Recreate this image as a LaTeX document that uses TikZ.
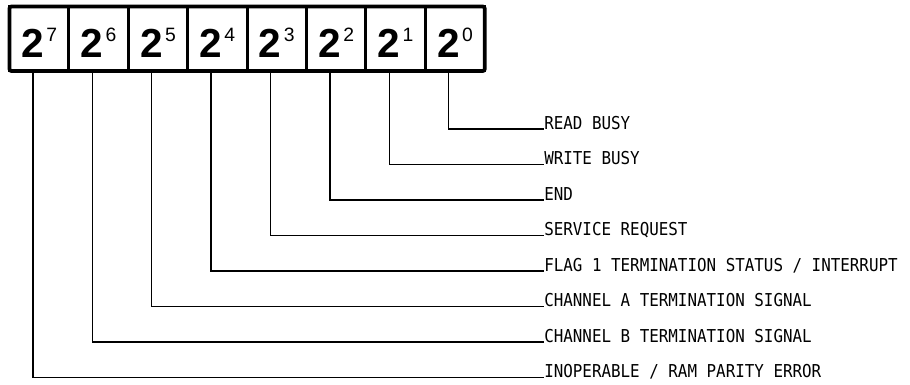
\documentclass[tikz,border=0pt]{standalone}
\usepackage{fontspec}
\usetikzlibrary{calc}
\newfontfamily\labfont{DejaVu Sans Mono}
\newfontfamily\bitfont{Liberation Sans}
\newcommand{\bitlab}[1]{{\bitfont\bfseries\fontsize{30.4pt}{30pt}\selectfont 2}\kern1.8pt\raisebox{11.4pt}{\bitfont\fontsize{14.5pt}{15pt}\selectfont #1}}
\newcommand{\siglab}[1]{\scalebox{1}[1.12]{#1}}
\begin{document}
\begin{tikzpicture}[x=0.75pt,y=-0.75pt,
  cell/.style={draw, line width=2.2pt, minimum width=44.55pt, minimum height=48.4pt,
    inner sep=0pt, outer sep=0pt, text height=27.4pt, text depth=0pt, anchor=north west},
  sig/.style={anchor=base west, inner sep=0pt, font=\labfont\fontsize{11.9pt}{12pt}\selectfont},
  wire/.style={line width=1.1pt}]
\useasboundingbox (0,0) rectangle (910,385);
\foreach \i/\b in {0/7,1/6,2/5,3/4,4/3,5/2,6/1,7/0} {
  \node[cell] (b\b) at ({9.5+59.4*\i},6.5) {\bitlab{\b}};
}
\draw[line width=2.8pt, rounded corners=1.5pt] (b7.north west) rectangle (b0.south east);
\node[sig] (l0) at (544,129.0) {\siglab{READ BUSY}};
\node[sig] (l1) at (544,164.5) {\siglab{WRITE BUSY}};
\node[sig] (l2) at (544,200.0) {\siglab{END}};
\node[sig] (l3) at (544,235.5) {\siglab{SERVICE REQUEST}};
\node[sig] (l4) at (544,271.0) {\siglab{FLAG 1 TERMINATION STATUS / INTERRUPT}};
\node[sig] (l5) at (544,306.5) {\siglab{CHANNEL A TERMINATION SIGNAL}};
\node[sig] (l6) at (544,342.0) {\siglab{CHANNEL B TERMINATION SIGNAL}};
\node[sig] (l7) at (544,377.5) {\siglab{INOPERABLE / RAM PARITY ERROR}};
\foreach \b in {0,...,7} {
  \draw[wire] ($(b\b.south west)+(23.4,0)$) |- (l\b.base west);
}
\end{tikzpicture}
\end{document}
